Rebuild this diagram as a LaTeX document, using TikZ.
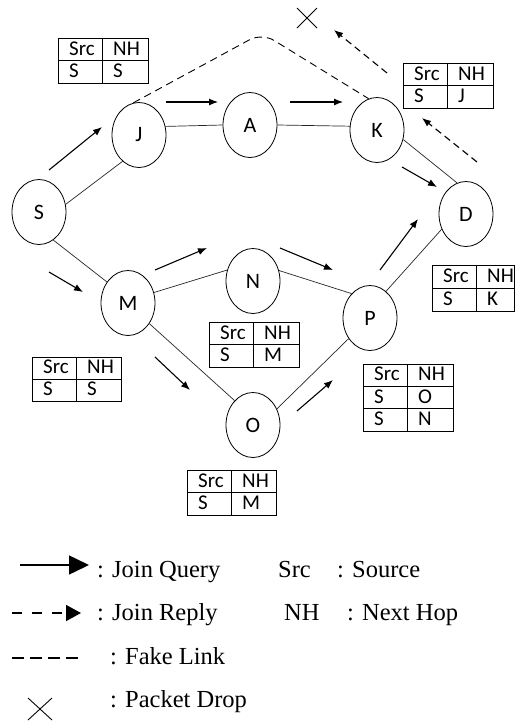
\documentclass[tikz,border=0pt]{standalone}
\usepackage{fontspec}
\setmainfont{Liberation Serif}
\newfontfamily\calfont{Carlito}
\usetikzlibrary{arrows.meta,shapes.geometric,calc}
\tikzset{
  nd/.style={ellipse, draw, line width=0.8pt, minimum width=54pt, minimum height=65pt, inner sep=0pt,
    font=\calfont\fontsize{22}{22}\selectfont},
  link/.style={line width=0.7pt, draw=black!85},
  query/.style={-{Latex[length=9pt,width=7pt]}, line width=1.1pt},
  reply/.style={query, dash pattern=on 7pt off 4.5pt},
  fake/.style={line width=0.9pt, dash pattern=on 7.5pt off 5pt},
  tab/.style={line width=0.8pt},
  tt/.style={inner sep=0pt, font=\calfont\fontsize{21}{21}\selectfont},
  lg/.style={inner sep=0pt, anchor=base west, font=\fontsize{24.5}{24.5}\selectfont},
  dropmark/.style={line width=0.9pt}
}
% #1 name, #2 x, #3 y (top left), #4 width, #5 column split, #6 row height, #7 rows
\newcommand\rtab[7]{%
  \begin{scope}[shift={(#2,#3)}]
  \foreach \a/\b [count=\i] in {#7} {
    \draw[tab] (0,#6*\i-#6) rectangle (#5,#6*\i);
    \draw[tab] (#5,#6*\i-#6) rectangle (#4,#6*\i);
    \node[tt, anchor=base west] (#1-\i-a) at (11,#6*\i-#6*0.24) {\a};
    \node[tt, anchor=base west] (#1-\i-b) at (#5+11,#6*\i-#6*0.24) {\b};
  }
  \end{scope}}
\begin{document}
\begin{tikzpicture}[x=1pt,y=-1pt]
\useasboundingbox (0,0) rectangle (515,721);
% nodes
\node[nd] (S) at (39,212) {S};
\node[nd] (J) at (139,135) {J};
\node[nd] (A) at (250,125) {A};
\node[nd] (K) at (377,130) {K};
\node[nd] (D) at (466,214) {D};
\node[nd] (M) at (128,303) {M};
\node[nd] (N) at (253,281) {N};
\node[nd] (P) at (370,318) {P};
\node[nd] (O) at (253,425) {O};
% links
\draw[link] (S.16) -- (J.238);
\draw[link] (S.297) -- (M.135);
\draw[link] (J.18) -- (A.west);
\draw[link] (A.east) -- (K.172);
\draw[link] (K.340) -- (D.106);
\draw[link] (M.22) -- (N.157);
\draw[link] (N.22) -- (P.127);
\draw[link] (M.316) -- (O.127);
\draw[link] (O.34) -- (P.224);
\draw[link] (P.59) -- (D.212);
% fake link
\coordinate (peak) at (262,33);
\draw[fake, rounded corners=14pt] (J.100) -- (peak) -- (K.105);
% join query arrows
\draw[query] (49,170) -- (102,127);
\draw[query] (166,102) -- (218,102);
\draw[query] (290,102) -- (343,102);
\draw[query] (402,167) -- (437,187);
\draw[query] (49,272) -- (83,292);
\draw[query] (155,270) -- (207,248);
\draw[query] (280,248) -- (333,270);
\draw[query] (155,357) -- (190,390);
\draw[query] (297,411) -- (333,380);
\draw[query] (380,270) -- (418,219);
% join reply arrows
\draw[reply] (477,162) -- (422,118);
\draw[reply] (387,73) -- (334,30);
% packet drop
\coordinate (X) at (307,18);
\draw[dropmark] ($(X)+(-10,-10)$) -- ($(X)+(10,10)$);
\draw[dropmark] ($(X)+(-10,10)$) -- ($(X)+(10,-10)$);
% tables
\rtab{tJ}{58}{38}{90}{44}{22.5}{Src/NH,S/S}
\rtab{tK}{403}{63}{90}{44}{22.5}{Src/NH,S/J}
\rtab{tD}{432}{265}{82.5}{44}{23}{Src/NH,S/K}
\rtab{tN}{209}{322}{90}{44}{22.5}{Src/NH,S/M}
\rtab{tM}{32}{357}{89}{44}{22}{Src/NH,S/S}
\rtab{tP}{363}{364}{90}{44}{22.3}{Src/NH,S/O,S/N}
\rtab{tO}{187}{470}{89}{44}{22.5}{Src/NH,S/M}
% legend
\coordinate (q1) at (20,565); \coordinate (q2) at (89,565);
\draw[line width=1.5pt, -{Triangle[length=20pt,width=19pt]}] (q1) -- (q2);
\node[lg] (lq) at (97,577) {: Join Query};
\node[lg] (ls) at (278,577) {Src};
\node[lg] (lss) at (337,577) {: Source};
\coordinate (r1) at (12,613); \coordinate (r2) at (81,613);
\draw[line width=1.5pt, dash pattern=on 10pt off 10pt, -{Triangle[length=15pt,width=16pt]}] (r1) -- (r2);
\node[lg] (lr) at (97,620) {: Join Reply};
\node[lg] (ln) at (284,620) {NH};
\node[lg] (lnn) at (347,620) {: Next Hop};
\coordinate (f1) at (12,658); \coordinate (f2) at (82,658);
\draw[line width=1.3pt, dash pattern=on 12pt off 6pt] (f1) -- (f2);
\node[lg] (lf) at (110,664) {: Fake Link};
\coordinate (Y) at (40,709);
\draw[dropmark] ($(Y)+(-12,-11)$) -- ($(Y)+(12,11)$);
\draw[dropmark] ($(Y)+(-12,11)$) -- ($(Y)+(12,-11)$);
\node[lg] (lp) at (110,707) {: Packet Drop};
\end{tikzpicture}
\end{document}
